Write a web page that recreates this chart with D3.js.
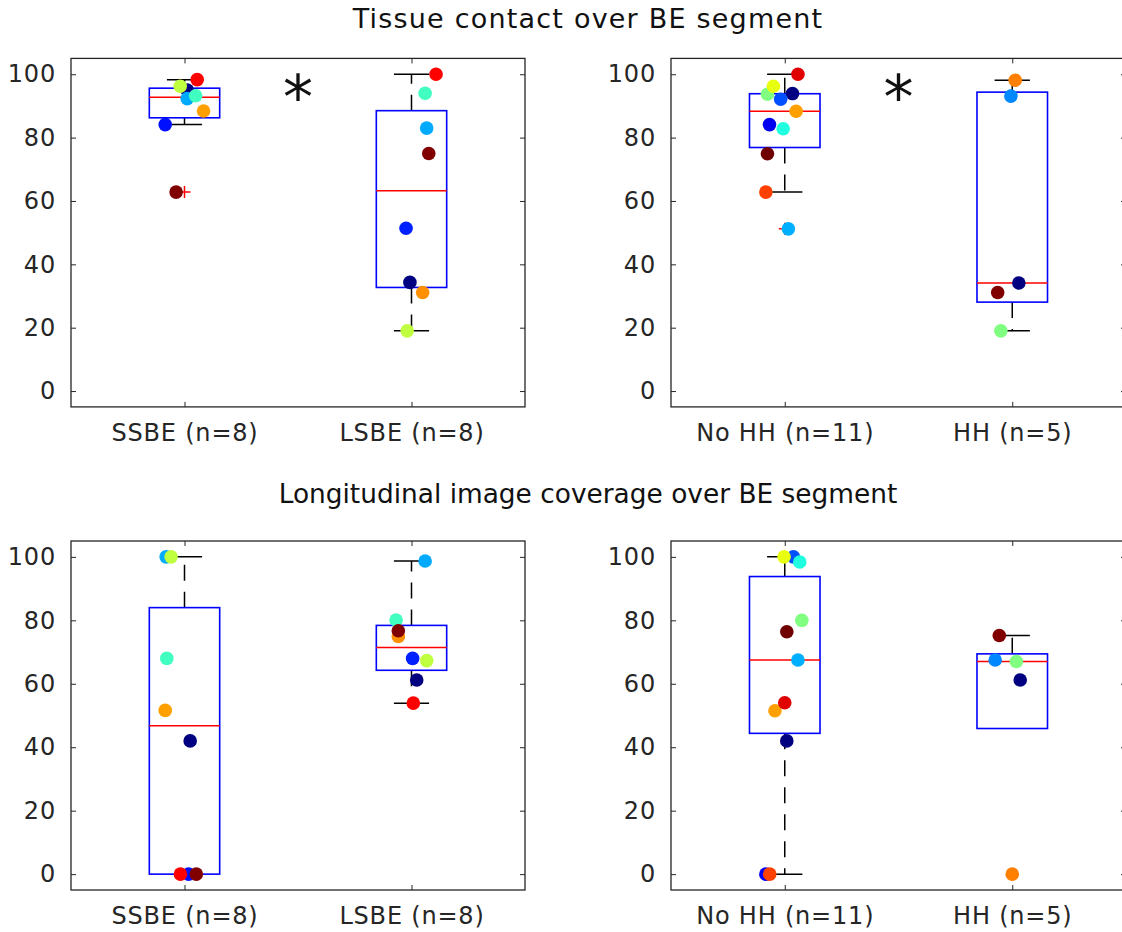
<!DOCTYPE html>
<html>
<head>
<meta charset="utf-8">
<script src="https://cdn.jsdelivr.net/npm/d3@7"></script>
<style>
  html, body { margin: 0; padding: 0; background: #fff; }
  svg { display: block; font-family: "DejaVu Sans", sans-serif; }
</style>
</head>
<body>
<div id="chart"></div>
<script>
// ---- data ----
const titles = ['Tissue contact over BE segment', 'Longitudinal image coverage over BE segment'];
const lengthLabels = ['SSBE (n=8)', 'LSBE (n=8)'];
const hiatalLabels = ['No HH (n=11)', 'HH (n=5)'];
const yTicks = [0, 20, 40, 60, 80, 100];
const starLevel = 95.6; // height of the significance asterisk

// short segment BE
const ssbeColors   = ['#000080', '#0010ff', '#00aaff', '#40ffc0', '#c0ff40', '#ffa000', '#ff0000', '#800000'];
const ssbeContact  = [95.0, 84.1, 92.3, 93.2, 96.2, 88.4, 98.3, 62.8];
const ssbeCoverage = [42.0, 0, 100, 68.0, 100, 51.6, 0, 0];
const ssbeJitterContact  = [0.012, -0.085, 0.012, 0.049, -0.019, 0.084, 0.056, -0.037];
const ssbeJitterCoverage = [0.025, 0.018, -0.081, -0.078, -0.059, -0.085, -0.018, 0.052];

// long segment BE
const lsbeColors   = ['#000080', '#0020ff', '#00aaff', '#40ffc0', '#c0ff40', '#ff9000', '#ff0000', '#800000'];
const lsbeContact  = [34.3, 51.4, 83.0, 94.0, 19.0, 31.1, 100, 75.0];
const lsbeCoverage = [61.2, 68.0, 98.7, 80.1, 67.3, 74.9, 53.9, 76.7];
const lsbeJitterContact  = [-0.007, -0.024, 0.067, 0.060, -0.019, 0.049, 0.108, 0.076];
const lsbeJitterCoverage = [0.023, 0.005, 0.060, -0.068, 0.067, -0.058, 0.008, -0.058];

// no hiatal hernia
const noHHColors   = ['#000080', '#0000f0', '#0050ff', '#00b0ff', '#20ffe0', '#80ff80', '#e8ff10', '#ffa000', '#ff4000', '#e00000', '#700000'];
const noHHContact  = [93.9, 84.1, 92.1, 51.2, 82.8, 93.7, 96.2, 88.3, 62.8, 100, 74.9];
const noHHCoverage = [42.0, 0, 100, 67.5, 98.4, 80.0, 100, 51.5, 0, 54.0, 76.4];
const noHHJitterContact  = [0.034, -0.067, -0.018, 0.016, -0.007, -0.076, -0.050, 0.050, -0.083, 0.058, -0.076];
const noHHJitterCoverage = [0.009, -0.083, 0.038, 0.058, 0.066, 0.075, -0.003, -0.043, -0.066, 0, 0.009];

// hiatal hernia
const hhColors   = ['#000080', '#0088ff', '#80ff80', '#ff8000', '#800000'];
const hhContact  = [34.1, 93.1, 19.0, 98.1, 31.1];
const hhCoverage = [61.2, 67.5, 67.0, 0, 75.2];
const hhJitterContact  = [0.029, -0.006, -0.050, 0.013, -0.064];
const hhJitterCoverage = [0.035, -0.075, 0.018, 0, -0.057];

var boxFigure = {

  config: {
    width:        1122,
    height:       932,
    boxWidth:     0.31,   // in category units
    capWidth:     0.155,
    markerRadius: 6.8,
    tickLength:   5,
    axisColor:    '#262626',
    tickFont:     24,
    tickSpacing:  0.8     // MATLAB text comes out a bit wider
  },

  // title text, baseline, size, letter spacing
  titleRows: [
    { y: 28,  size: 27,   spacing: 1.2 },
    { y: 503, size: 26.4, spacing: 0 }
  ],

  // panel frames in pixels
  frames: [
    { left: 71,  right: 525,  top: 58.4, bottom: 406.9 },
    { left: 671, right: 1126, top: 58.4, bottom: 406.9 },
    { left: 71,  right: 525,  top: 541,  bottom: 890 },
    { left: 671, right: 1126, top: 541,  bottom: 890 }
  ],

  display: function(el) {
    this.svg = d3.select(el).append('svg')
      .attr('width', this.config.width)
      .attr('height', this.config.height);

    this.titleRows.forEach((t, i) => {
      this.svg.append('text').attr('x', 588).attr('y', t.y)
        .attr('text-anchor', 'middle').attr('font-size', t.size)
        .attr('letter-spacing', t.spacing)
        .attr('fill', '#111').text(titles[i]);
    });

    this.drawPanel(this.frames[0], lengthLabels, [
      { values: ssbeContact, colors: ssbeColors, jitter: ssbeJitterContact },
      { values: lsbeContact, colors: lsbeColors, jitter: lsbeJitterContact }
    ], true);
    this.drawPanel(this.frames[1], hiatalLabels, [
      { values: noHHContact, colors: noHHColors, jitter: noHHJitterContact },
      { values: hhContact,   colors: hhColors,   jitter: hhJitterContact }
    ], true);
    this.drawPanel(this.frames[2], lengthLabels, [
      { values: ssbeCoverage, colors: ssbeColors, jitter: ssbeJitterCoverage },
      { values: lsbeCoverage, colors: lsbeColors, jitter: lsbeJitterCoverage }
    ], false);
    this.drawPanel(this.frames[3], hiatalLabels, [
      { values: noHHCoverage, colors: noHHColors, jitter: noHHJitterCoverage },
      { values: hhCoverage,   colors: hhColors,   jitter: hhJitterCoverage }
    ], false);
  },

  /* ---
   * MATLAB style quantile (boxplot uses this one).
   */
  quantile: function(sorted, p) {
    const n = sorted.length;
    const pos = p * n + 0.5;
    if (pos <= 1) return sorted[0];
    if (pos >= n) return sorted[n - 1];
    const lo = Math.floor(pos);
    return sorted[lo - 1] + (pos - lo) * (sorted[lo] - sorted[lo - 1]);
  },

  boxStats: function(values) {
    const s = values.slice().sort(d3.ascending);
    const q1 = this.quantile(s, 0.25), med = this.quantile(s, 0.5), q3 = this.quantile(s, 0.75);
    const iqr = q3 - q1;
    const inside = s.filter(v => v >= q1 - 1.5 * iqr && v <= q3 + 1.5 * iqr);
    return {
      q1: q1, med: med, q3: q3,
      hi: Math.max(d3.max(inside), q3),
      lo: Math.min(d3.min(inside), q1),
      outliers: s.filter(v => v < q1 - 1.5 * iqr || v > q3 + 1.5 * iqr)
    };
  },

  styleTicks: function(sel) {
    sel.select('.domain').remove();
    sel.selectAll('line').attr('stroke', this.config.axisColor);
    sel.selectAll('text')
      .attr('font-size', this.config.tickFont)
      .attr('letter-spacing', this.config.tickSpacing)
      .attr('fill', this.config.axisColor)
      .attr('font-family', '"DejaVu Sans", sans-serif');
  },

  drawPanel: function(f, labels, groups, star) {
    const c = this.config;
    const x = d3.scaleLinear().domain([0.5, 2.5]).range([f.left, f.right]);
    const y = d3.scaleLinear().domain([-5, 105]).range([f.bottom, f.top]);
    const g = this.svg.append('g');

    // axes frame + ticks
    g.append('rect')
      .attr('x', f.left).attr('y', f.top)
      .attr('width', f.right - f.left).attr('height', f.bottom - f.top)
      .attr('fill', 'none').attr('stroke', c.axisColor).attr('stroke-width', 1.3);

    this.styleTicks(g.append('g').attr('transform', `translate(${f.left},0)`)
      .call(d3.axisLeft(y).tickValues(yTicks).tickSizeInner(-c.tickLength).tickSizeOuter(0).tickPadding(15)));
    this.styleTicks(g.append('g').attr('transform', `translate(${f.right},0)`)
      .call(d3.axisRight(y).tickValues(yTicks).tickSizeInner(-c.tickLength).tickSizeOuter(0).tickFormat('')));
    this.styleTicks(g.append('g').attr('transform', `translate(0,${f.bottom})`)
      .call(d3.axisBottom(x).tickValues([1, 2]).tickSizeInner(-c.tickLength).tickSizeOuter(0)
        .tickPadding(17).tickFormat((d, i) => labels[i])));
    this.styleTicks(g.append('g').attr('transform', `translate(0,${f.top})`)
      .call(d3.axisTop(x).tickValues([1, 2]).tickSizeInner(-c.tickLength).tickSizeOuter(0).tickFormat('')));

    // boxes
    groups.forEach((grp, i) => {
      const pos = i + 1;
      const st = this.boxStats(grp.values);
      const bx0 = x(pos - c.boxWidth / 2), bx1 = x(pos + c.boxWidth / 2);
      const cx0 = x(pos - c.capWidth / 2), cx1 = x(pos + c.capWidth / 2);

      [[st.q3, st.hi], [st.q1, st.lo]].forEach(w => {
        if (w[0] === w[1]) return;
        g.append('line').attr('x1', x(pos)).attr('x2', x(pos))
          .attr('y1', y(w[0])).attr('y2', y(w[1]))
          .attr('stroke', '#000').attr('stroke-width', 1.5).attr('stroke-dasharray', '16,11');
        g.append('line').attr('x1', cx0).attr('x2', cx1)
          .attr('y1', y(w[1])).attr('y2', y(w[1]))
          .attr('stroke', '#000').attr('stroke-width', 1.5);
      });

      g.append('rect')
        .attr('x', bx0).attr('y', y(st.q3))
        .attr('width', bx1 - bx0).attr('height', y(st.q1) - y(st.q3))
        .attr('fill', 'none').attr('stroke', '#0000ff').attr('stroke-width', 1.6);
      g.append('line').attr('x1', bx0).attr('x2', bx1)
        .attr('y1', y(st.med)).attr('y2', y(st.med))
        .attr('stroke', '#ff0000').attr('stroke-width', 1.5);

      st.outliers.forEach(v => {
        g.append('path')
          .attr('d', `M${x(pos) - 6},${y(v)}H${x(pos) + 6}M${x(pos)},${y(v) - 6}V${y(v) + 6}`)
          .attr('stroke', '#ff0000').attr('stroke-width', 1.5);
      });
    });

    // jittered patient points
    groups.forEach((grp, i) => {
      g.selectAll(null).data(grp.values).enter().append('circle')
        .attr('cx', (d, j) => x(i + 1 + grp.jitter[j]))
        .attr('cy', d => y(d))
        .attr('r', c.markerRadius)
        .attr('fill', (d, j) => grp.colors[j]);
    });

    if (star) {
      g.append('text')
        .attr('x', x(1.5)).attr('y', y(starLevel)).attr('dy', '0.5em')
        .attr('text-anchor', 'middle').attr('font-size', 60).attr('fill', '#111')
        .text('*');
    }
  }
};

boxFigure.display('#chart');
</script>
</body>
</html>
